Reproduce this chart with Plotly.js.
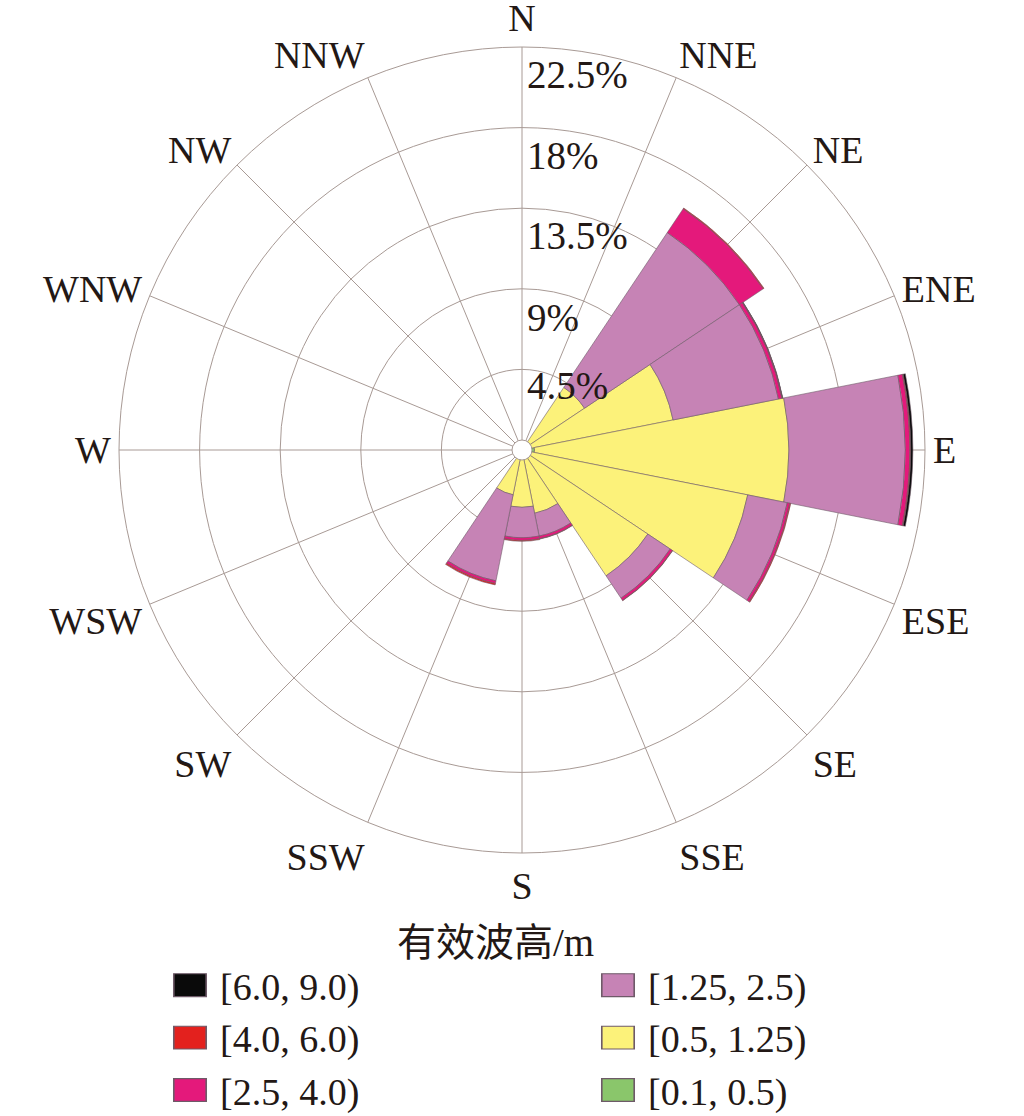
<!DOCTYPE html>
<html>
<head>
<meta charset="utf-8">
<script src="https://cdn.plot.ly/plotly-3.0.1.min.js"></script>
<style>html,body{margin:0;padding:0;background:#fff;}#chart{width:1024px;height:1116px;}</style>
</head>
<body>
<div id="chart"></div>
<script>
// ---- data ----
const directions = ['N','NNE','NE','ENE','E','ESE','SE','SSE','S','SSW','SW','WSW','W','WNW','NW','NNW'];
const binLabels = ['[0.1, 0.5)','[0.5, 1.25)','[1.25, 2.5)','[2.5, 4.0)','[4.0, 6.0)','[6.0, 9.0)'];
const binColors = ['#8ac66b','#fcf27a','#c683b5','#e4197b','#e3211e','#0a0a0a'];
// frequency (%) per direction, one array per wave-height bin
const h0_1_0_5   = [0, 0, 0.10, 0.30, 0.70, 0.30, 0.10, 0.10, 0.10, 0.10, 0, 0, 0, 0, 0, 0];
const h0_5_1_25  = [0, 0, 4.10, 8.30, 14.2, 12.55, 8.35, 3.50, 3.10, 2.45, 0, 0, 0, 0, 0, 0];
const h1_25_2_5  = [0, 0, 10.4, 6.00, 6.50, 2.25, 1.50, 1.30, 1.70, 4.90, 0, 0, 0, 0, 0, 0];
const h2_5_4_0   = [0, 0, 1.60, 0.20, 0.25, 0.15, 0.15, 0.15, 0.15, 0.15, 0, 0, 0, 0, 0, 0];
const h4_0_6_0   = [0, 0, 0.05, 0.03, 0.05, 0.05, 0.02, 0.02, 0.05, 0.08, 0, 0, 0, 0, 0, 0];
const h6_0_9_0   = [0, 0, 0, 0.02, 0.12, 0, 0, 0, 0, 0, 0, 0, 0, 0, 0, 0];
const seriesValues = [h0_1_0_5, h0_5_1_25, h1_25_2_5, h2_5_4_0, h4_0_6_0, h6_0_9_0];
const ringValues = [4.5, 9, 13.5, 18, 22.5];
const ringLabels = ['4.5%', '9%', '13.5%', '18%', '22.5%'];
const legendTitle = '有效波高/m';

// ---- styling ----
const serif = 'Liberation Serif, Times New Roman, serif';
const gridColor = '#a89a95';
const legendRank = [6, 4, 2, 5, 3, 1];
const legendGroup = ['legend2','legend2','legend2','legend','legend','legend'];
const labelShift = [0.55, 1.25, 1.2, 1.25, 1.2]; // ring labels sit just inside each ring

const traces = seriesValues.map((vals, i) => ({
  type: 'barpolar',
  r: vals,
  theta: directions,
  name: binLabels[i],
  marker: {color: binColors[i], line: {color: '#6e5a68', width: 0.6}},
  legend: legendGroup[i],
  legendrank: legendRank[i],
  hoverinfo: 'skip'
}));
// overlay subplot only used to carry the radial percentage labels
traces.push({type: 'scatterpolar', r: [], theta: [], subplot: 'polar2', showlegend: false, hoverinfo: 'skip'});

const W = 1024, H = 1116, cx = 522, cy = 450, R = 403;
const dom = {x: [(cx - R) / W, (cx + R) / W], y: [(H - cy - R) / H, (H - cy + R) / H]};
const dom2 = {x: [(cx - 15 - R) / W, (cx - 15 + R) / W], y: dom.y};

const legendFont = {family: serif, size: 38, color: '#231815'};

const layout = {
  width: W, height: H,
  margin: {l: 0, r: 0, t: 0, b: 0, autoexpand: false},
  paper_bgcolor: '#fff',
  font: {family: serif, color: '#231815'},
  polar: {
    domain: dom,
    bgcolor: '#fff',
    barmode: 'stack',
    bargap: 0,
    radialaxis: {range: [0, 22.5], tickvals: ringValues, showticklabels: false, ticks: '',
                 showline: false, gridcolor: gridColor, gridwidth: 1, angle: 90},
    angularaxis: {type: 'category', categoryarray: directions, direction: 'clockwise', rotation: 90,
                  showline: true, linecolor: gridColor, linewidth: 1, gridcolor: gridColor, gridwidth: 1,
                  ticks: '',
                  tickfont: {family: serif, size: 38, color: '#231815'}}
  },
  polar2: {
    domain: dom2,
    bgcolor: 'rgba(0,0,0,0)',
    radialaxis: {range: [0, 22.5], tickvals: ringValues.map((v, i) => v - labelShift[i]), ticktext: ringLabels,
                 showgrid: false, showline: false, ticks: '', angle: 90,
                 tickfont: {family: serif, size: 39, color: '#231815'}},
    angularaxis: {visible: false, showgrid: false, showline: false}
  },
  shapes: [{type: 'circle', xref: 'paper', yref: 'paper', xsizemode: 'pixel', ysizemode: 'pixel',
            xanchor: cx / W, yanchor: 1 - cy / H, x0: -10, x1: 10, y0: -10, y1: 10,
            fillcolor: '#fff', line: {color: gridColor, width: 1}, layer: 'above'}],
  annotations: [{text: legendTitle, xref: 'paper', yref: 'paper', x: 495 / W, y: 1 - 942 / H,
                 xanchor: 'center', yanchor: 'middle', showarrow: false,
                 font: {family: serif + ', Noto Sans CJK SC', size: 39, color: '#231815'}}],
  legend: {x: 160 / W, y: 1 - 954 / H, xanchor: 'left', yanchor: 'top', orientation: 'v',
           bgcolor: 'rgba(0,0,0,0)', itemwidth: 50, font: legendFont, itemclick: false},
  legend2: {x: 588 / W, y: 1 - 954 / H, xanchor: 'left', yanchor: 'top', orientation: 'v',
            bgcolor: 'rgba(0,0,0,0)', itemwidth: 50, font: legendFont, itemclick: false},
  showlegend: true
};

Plotly.newPlot('chart', traces, layout, {staticPlot: true, displayModeBar: false}).then(() => {
  document.querySelectorAll('.legendpoints path').forEach(p => {
    const t = p.getAttribute('transform') || '';
    p.setAttribute('transform', t + ' scale(2.7,1.9)');
  });
});
</script>
</body>
</html>
